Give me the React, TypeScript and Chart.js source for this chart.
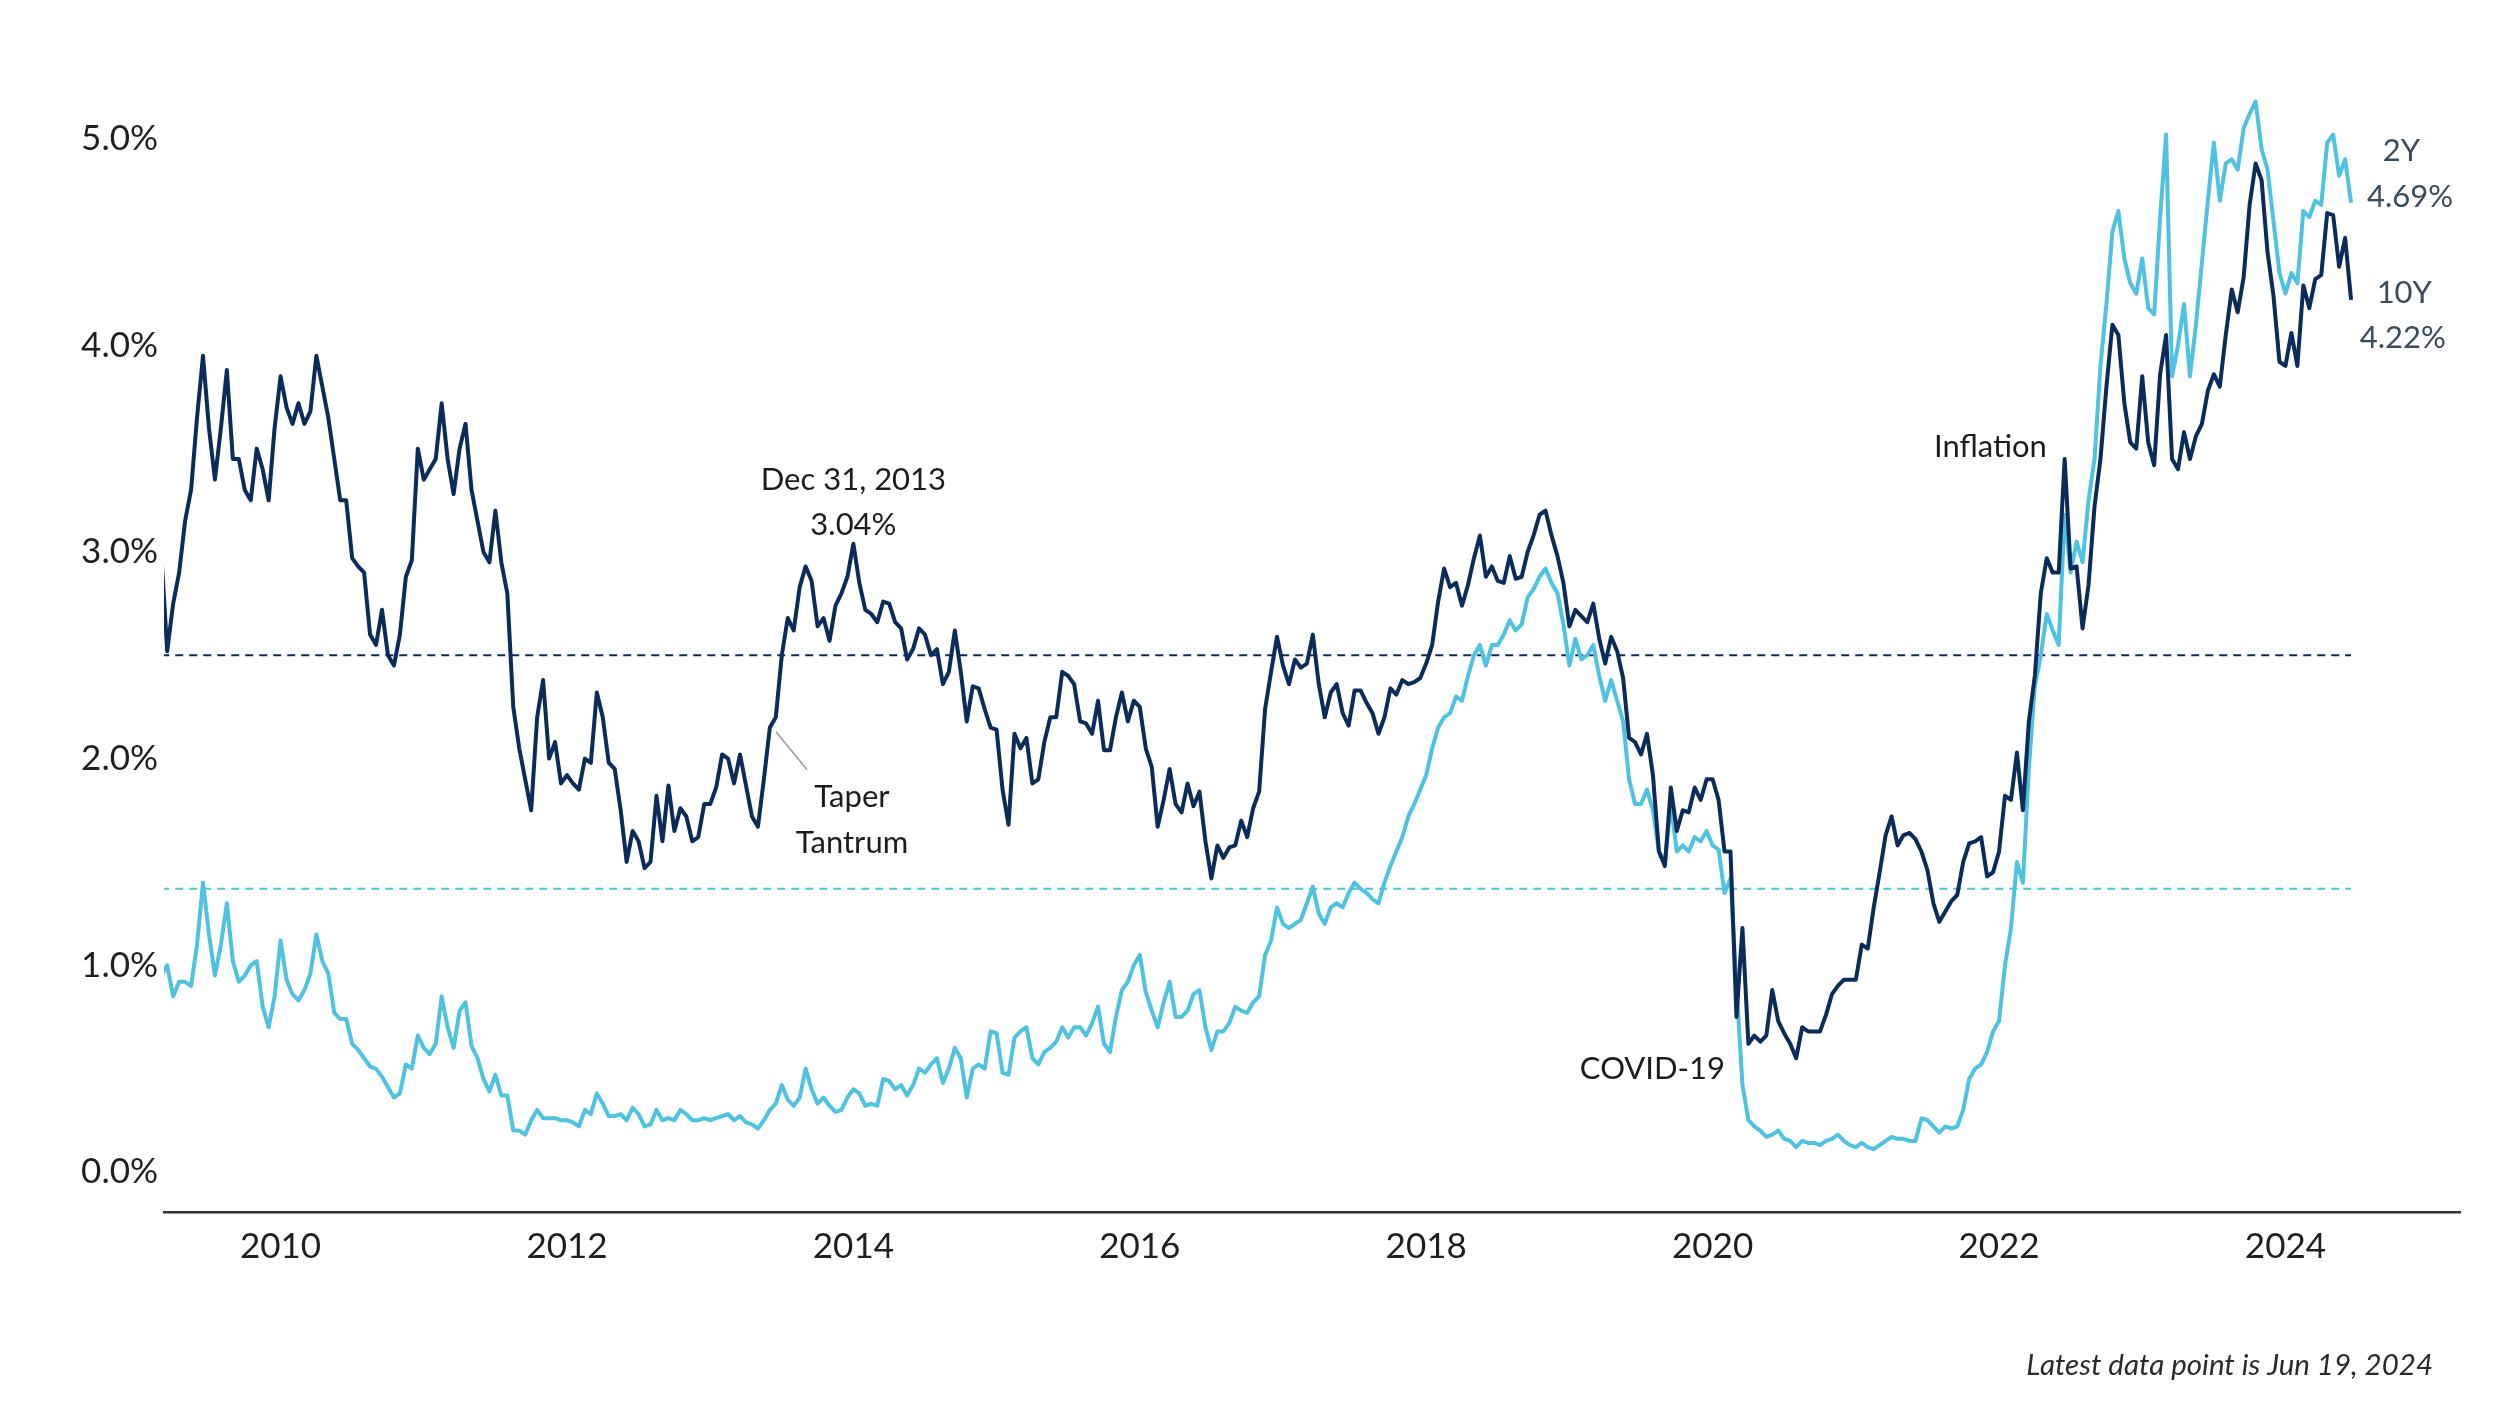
import React, { useEffect, useRef } from "react";
import { Chart, registerables } from "chart.js";

Chart.register(...registerables);

// ---------- data ----------
// Semi-monthly observations (1st and 16th of each month), starting Mar 1, 2009
const START_YEAR = 2009 + 2 / 12;
const STEP = 1 / 24;

// 10-year Treasury yield (%)
const tenYear = [
  // 2009 (Mar - Dec)
  3.0, 2.52, 2.75, 2.9, 3.15, 3.3, 3.65, 3.95, 3.6, 3.35, 3.6, 3.88, 3.45, 3.45, 3.3, 3.25, 3.5, 3.4, 3.25, 3.6,
  // 2010
  3.85, 3.7, 3.62, 3.72, 3.62, 3.68, 3.95, 3.8, 3.65, 3.45, 3.25, 3.25, 2.97, 2.93, 2.9, 2.6, 2.55, 2.72, 2.5, 2.45, 2.6, 2.88, 2.96, 3.5,
  // 2011
  3.35, 3.4, 3.45, 3.72, 3.45, 3.28, 3.5, 3.62, 3.3, 3.15, 3.0, 2.95, 3.2, 2.95, 2.8, 2.25, 2.05, 1.9, 1.75, 2.2, 2.38, 2.0, 2.08, 1.88,
  // 2012
  1.92, 1.88, 1.85, 2.0, 1.98, 2.32, 2.2, 1.98, 1.95, 1.75, 1.5, 1.65, 1.6, 1.47, 1.5, 1.82, 1.6, 1.87, 1.65, 1.76, 1.72, 1.6, 1.62, 1.78,
  // 2013
  1.78, 1.86, 2.02, 2.0, 1.88, 2.02, 1.87, 1.72, 1.67, 1.9, 2.15, 2.2, 2.5, 2.68, 2.62, 2.83, 2.93, 2.86, 2.64, 2.68, 2.57, 2.74, 2.8, 2.88,
  // 2014
  3.04, 2.85, 2.72, 2.7, 2.66, 2.76, 2.75, 2.66, 2.63, 2.48, 2.53, 2.63, 2.6, 2.5, 2.53, 2.36, 2.42, 2.62, 2.42, 2.18, 2.35, 2.34, 2.24, 2.15,
  // 2015
  2.14, 1.85, 1.68, 2.12, 2.05, 2.1, 1.88, 1.9, 2.08, 2.2, 2.2, 2.42, 2.4, 2.36, 2.18, 2.17, 2.12, 2.28, 2.04, 2.04, 2.2, 2.32, 2.18, 2.28,
  // 2016
  2.25, 2.05, 1.96, 1.67, 1.8, 1.95, 1.78, 1.74, 1.88, 1.77, 1.84, 1.6, 1.42, 1.58, 1.52, 1.57, 1.58, 1.7, 1.62, 1.76, 1.84, 2.24, 2.42, 2.59,
  // 2017
  2.45, 2.36, 2.48, 2.44, 2.46, 2.6, 2.36, 2.2, 2.32, 2.36, 2.22, 2.16, 2.33, 2.33, 2.27, 2.22, 2.12, 2.2, 2.34, 2.31, 2.38, 2.36, 2.37, 2.39,
  // 2018
  2.46, 2.55, 2.76, 2.92, 2.83, 2.85, 2.74, 2.84, 2.97, 3.08, 2.88, 2.93, 2.86, 2.85, 2.98, 2.87, 2.88, 3.0, 3.08, 3.18, 3.2, 3.08, 2.98, 2.85,
  // 2019
  2.64, 2.72, 2.69, 2.66, 2.75, 2.58, 2.46, 2.59, 2.52, 2.39, 2.1, 2.08, 2.02, 2.12, 1.92, 1.55, 1.48, 1.86, 1.65, 1.75, 1.74, 1.86, 1.8, 1.9,
  // 2020
  1.9, 1.8, 1.55, 1.55, 0.75, 1.18, 0.62, 0.66, 0.63, 0.66, 0.88, 0.73, 0.67, 0.62, 0.55, 0.7, 0.68, 0.68, 0.68, 0.76, 0.86, 0.9, 0.93, 0.93,
  // 2021
  0.93, 1.1, 1.08, 1.28, 1.45, 1.63, 1.72, 1.58, 1.63, 1.64, 1.61, 1.55, 1.46, 1.3, 1.21, 1.26, 1.31, 1.34, 1.5, 1.59, 1.6, 1.62, 1.43, 1.45,
  // 2022
  1.55, 1.82, 1.8, 2.03, 1.75, 2.18, 2.4, 2.8, 2.97, 2.9, 2.9, 3.45, 2.92, 2.93, 2.63, 2.84, 3.22, 3.45, 3.8, 4.1, 4.05, 3.72, 3.53, 3.5,
  // 2023
  3.85, 3.53, 3.42, 3.86, 4.05, 3.45, 3.4, 3.58, 3.45, 3.56, 3.62, 3.78, 3.86, 3.8, 4.05, 4.27, 4.16, 4.33, 4.68, 4.88, 4.8, 4.45, 4.24, 3.92,
  // 2024 (Jan - Jun)
  3.9, 4.06, 3.9, 4.29, 4.18, 4.32, 4.34, 4.64, 4.63, 4.38, 4.52, 4.22,
];

// 2-year Treasury yield (%)
const twoYear = [
  // 2009 (Mar - Dec)
  0.95, 1.0, 0.85, 0.92, 0.92, 0.9, 1.1, 1.4, 1.15, 0.95, 1.1, 1.3, 1.02, 0.92, 0.95, 1.0, 1.02, 0.8, 0.7, 0.85,
  // 2010
  1.12, 0.93, 0.86, 0.83, 0.88, 0.96, 1.15, 1.02, 0.96, 0.77, 0.74, 0.74, 0.62, 0.59, 0.55, 0.51, 0.5, 0.46, 0.41, 0.36, 0.38, 0.52, 0.5, 0.66,
  // 2011
  0.6, 0.57, 0.62, 0.85, 0.7, 0.6, 0.78, 0.82, 0.61, 0.55, 0.45, 0.39, 0.47, 0.37, 0.37, 0.2, 0.2, 0.18, 0.25, 0.3, 0.26, 0.26, 0.26, 0.25,
  // 2012
  0.25, 0.24, 0.22, 0.3, 0.28, 0.38, 0.33, 0.27, 0.27, 0.28, 0.25, 0.31, 0.28, 0.22, 0.23, 0.3, 0.25, 0.26, 0.25, 0.3, 0.28, 0.25, 0.25, 0.26,
  // 2013
  0.25, 0.26, 0.27, 0.28, 0.25, 0.27, 0.24, 0.23, 0.21, 0.25, 0.3, 0.33, 0.42, 0.35, 0.32, 0.36, 0.5, 0.4, 0.33, 0.36, 0.32, 0.29, 0.3, 0.36,
  // 2014
  0.4, 0.38, 0.32, 0.33, 0.32, 0.45, 0.44, 0.4, 0.42, 0.37, 0.42, 0.5, 0.48, 0.52, 0.55, 0.43, 0.5, 0.6, 0.55, 0.36, 0.5, 0.52, 0.5, 0.68,
  // 2015
  0.67, 0.48, 0.47, 0.65, 0.68, 0.7, 0.55, 0.52, 0.58, 0.6, 0.63, 0.7, 0.65, 0.7, 0.7, 0.66, 0.72, 0.8, 0.62, 0.58, 0.75, 0.88, 0.92, 1.0,
  // 2016
  1.05, 0.87, 0.78, 0.7, 0.82, 0.92, 0.75, 0.75, 0.78, 0.86, 0.88, 0.7, 0.59, 0.68, 0.68, 0.72, 0.8, 0.78, 0.77, 0.82, 0.85, 1.05, 1.12, 1.28,
  // 2017
  1.2, 1.18, 1.2, 1.22, 1.3, 1.38, 1.25, 1.2, 1.28, 1.3, 1.28, 1.35, 1.4, 1.37, 1.35, 1.32, 1.3, 1.4, 1.48, 1.55, 1.62, 1.72, 1.78, 1.85,
  // 2018
  1.92, 2.05, 2.15, 2.2, 2.22, 2.3, 2.28, 2.4, 2.5, 2.55, 2.45, 2.55, 2.55, 2.6, 2.67, 2.62, 2.65, 2.78, 2.82, 2.88, 2.92, 2.85, 2.8, 2.65,
  // 2019
  2.45, 2.58, 2.48, 2.5, 2.55, 2.4, 2.28, 2.38, 2.28, 2.18, 1.9, 1.78, 1.78, 1.85, 1.75, 1.55, 1.5, 1.78, 1.55, 1.58, 1.55, 1.62, 1.6, 1.65,
  // 2020
  1.58, 1.56, 1.35, 1.42, 0.9, 0.42, 0.25, 0.22, 0.2, 0.17, 0.18, 0.2, 0.16, 0.15, 0.12, 0.15, 0.14, 0.14, 0.13, 0.15, 0.16, 0.18, 0.15, 0.13,
  // 2021
  0.12, 0.14, 0.12, 0.11, 0.13, 0.15, 0.17, 0.16, 0.16, 0.15, 0.15, 0.26, 0.25, 0.22, 0.19, 0.22, 0.21, 0.22, 0.3, 0.45, 0.5, 0.52, 0.58, 0.68,
  // 2022
  0.73, 1.0, 1.18, 1.5, 1.4, 1.95, 2.35, 2.5, 2.7, 2.62, 2.55, 3.18, 2.9, 3.05, 2.95, 3.25, 3.45, 3.9, 4.2, 4.55, 4.65, 4.42, 4.3, 4.25,
  // 2023
  4.42, 4.18, 4.15, 4.62, 5.02, 3.85, 4.0, 4.2, 3.85, 4.1, 4.4, 4.7, 4.98, 4.7, 4.88, 4.9, 4.85, 5.05, 5.12, 5.18, 4.95, 4.85, 4.6, 4.35,
  // 2024 (Jan - Jun)
  4.25, 4.35, 4.3, 4.65, 4.62, 4.7, 4.68, 4.98, 5.02, 4.82, 4.9, 4.69,
];

// long-run averages shown as dashed reference lines
const tenYearAverage = 2.5;
const twoYearAverage = 1.37;

// axis ticks
const xTickYears = [2010, 2012, 2014, 2016, 2018, 2020, 2022, 2024];
const yTickValues = [0, 1, 2, 3, 4, 5];

// annotation texts (anchored in data coordinates: year, yield)
const noteTexts = ["Dec 31, 2013", "3.04%", "Taper", "Tantrum", "Inflation", "COVID-19"];
const noteYears = [2014.0, 2014.0, 2013.99, 2013.99, 2021.94, 2019.58];
const noteYields = [3.35, 3.13, 1.815, 1.592, 3.51, 0.5];

const endTexts = ["2Y", "4.69%", "10Y", "4.22%"];
const endYears = [2024.81, 2024.87, 2024.83, 2024.82];
const endYields = [4.94, 4.72, 4.255, 4.035];

const taperLeaderYears = [2013.46, 2013.676];
const taperLeaderYields = [2.13, 1.946];

const footnote = "Latest data point is Jun 19, 2024";

// ---------- styles ----------
const NAVY = "#0b2b5b";
const LIGHT = "#4ec2e0";
const FONT = "Lato, 'Open Sans', sans-serif";

const X_MIN = 2009.186;
const X_MAX = 2025.219;
const Y_MIN = -0.194;
const Y_MAX = 5.4;

const toPoints = (vals: number[]) => vals.map((v, i) => ({ x: START_YEAR + i * STEP, y: v }));

export default function App() {
  const canvasRef = useRef<HTMLCanvasElement | null>(null);

  useEffect(() => {
    const canvas = canvasRef.current;
    if (!canvas) return;

    const lastX = START_YEAR + (tenYear.length - 1) * STEP;

    const annotationPlugin = {
      id: "textNotes",
      afterDatasetsDraw(chart: any) {
        const { ctx } = chart;
        const xs = chart.scales.x;
        const ys = chart.scales.y;
        ctx.save();
        // leader line for Taper Tantrum
        ctx.strokeStyle = "#9a9a9a";
        ctx.lineWidth = 1.5;
        ctx.beginPath();
        ctx.moveTo(xs.getPixelForValue(taperLeaderYears[0]), ys.getPixelForValue(taperLeaderYields[0]));
        ctx.lineTo(xs.getPixelForValue(taperLeaderYears[1]), ys.getPixelForValue(taperLeaderYields[1]));
        ctx.stroke();

        ctx.textAlign = "center";
        ctx.textBaseline = "middle";
        ctx.font = `31px ${FONT}`;
        ctx.fillStyle = "#1c1c1c";
        noteTexts.forEach((t, i) => {
          ctx.fillText(t, xs.getPixelForValue(noteYears[i]), ys.getPixelForValue(noteYields[i]));
        });
        ctx.fillStyle = "#3a4b5e";
        endTexts.forEach((t, i) => {
          ctx.fillText(t, xs.getPixelForValue(endYears[i]), ys.getPixelForValue(endYields[i]));
        });

        ctx.font = `italic 29.5px ${FONT}`;
        ctx.fillStyle = "#2a2a2a";
        ctx.textAlign = "right";
        ctx.fillText(footnote, chart.width - 67, 1365);
        ctx.restore();
      },
    };

    const chart = new Chart(canvas, {
      type: "line",
      data: {
        datasets: [
          {
            label: "10Y",
            data: toPoints(tenYear),
            borderColor: NAVY,
            borderWidth: 4,
            borderJoinStyle: "round",
            pointRadius: 0,
            tension: 0,
          },
          {
            label: "2Y",
            data: toPoints(twoYear),
            borderColor: LIGHT,
            borderWidth: 4,
            borderJoinStyle: "round",
            pointRadius: 0,
            tension: 0,
          },
          {
            label: "10Y average",
            data: [
              { x: START_YEAR, y: tenYearAverage },
              { x: lastX, y: tenYearAverage },
            ],
            borderColor: NAVY,
            borderWidth: 2,
            borderDash: [8, 6],
            pointRadius: 0,
          },
          {
            label: "2Y average",
            data: [
              { x: START_YEAR, y: twoYearAverage },
              { x: lastX, y: twoYearAverage },
            ],
            borderColor: LIGHT,
            borderWidth: 2,
            borderDash: [8, 6],
            pointRadius: 0,
          },
        ],
      },
      options: {
        responsive: false,
        animation: false,
        devicePixelRatio: 1,
        layout: { padding: { top: 56, right: 40, left: 0, bottom: 0 } },
        plugins: {
          legend: { display: false },
          tooltip: { enabled: false },
        },
        scales: {
          x: {
            type: "linear",
            min: X_MIN,
            max: X_MAX,
            grid: { display: false, drawTicks: false },
            border: { display: true, color: "#333333", width: 2.5 },
            ticks: {
              autoSkip: false,
              maxRotation: 0,
              padding: 14,
              color: "#1f1f1f",
              font: { family: FONT, size: 35 },
              callback: (v: any) => String(v),
            },
            afterBuildTicks: (s: any) => {
              s.ticks = xTickYears.map((v) => ({ value: v }));
            },
            afterFit: (s: any) => {
              s.height = 194;
            },
          },
          y: {
            type: "linear",
            min: Y_MIN,
            max: Y_MAX,
            grid: { display: false, drawTicks: false },
            border: { display: false },
            ticks: {
              padding: 6,
              color: "#1f1f1f",
              font: { family: FONT, size: 35 },
              callback: (v: any) => Number(v).toFixed(1) + "%",
            },
            afterBuildTicks: (s: any) => {
              s.ticks = yTickValues.map((v) => ({ value: v }));
            },
            afterFit: (s: any) => {
              s.width = 164;
            },
          },
        },
      },
      plugins: [annotationPlugin],
    } as any);

    return () => chart.destroy();
  }, []);

  return (
    <div style={{ position: "absolute", left: 0, top: 0, width: 2500, height: 1406, background: "#ffffff" }}>
      <canvas ref={canvasRef} width={2500} height={1406} style={{ width: 2500, height: 1406, display: "block" }} />
    </div>
  );
}
